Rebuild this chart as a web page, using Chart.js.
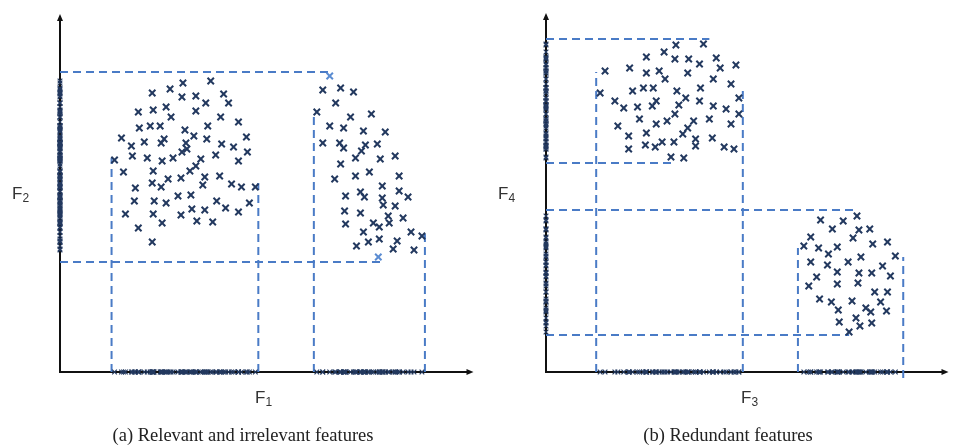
<!DOCTYPE html>
<html>
<head>
<meta charset="utf-8">
<script src="https://cdn.jsdelivr.net/npm/chart.js@4.4.0/dist/chart.umd.min.js"></script>
<style>
  body { margin: 0; background: #fff; }
  #wrap { position: relative; width: 955px; height: 448px; overflow: hidden; }
  canvas { position: absolute; top: 0; }
  .lab { position: absolute; font-family: "Liberation Sans", Arial, sans-serif; font-size: 17px; color: #333; line-height: 1; }
  .lab sub { font-size: 12px; vertical-align: -3px; line-height: 1; }
  .cap { position: absolute; top: 426px; font-family: "Liberation Serif", "Times New Roman", serif; font-size: 18.5px; line-height: 1; color: #222; white-space: nowrap; transform: translateX(-50%); }
</style>
</head>
<body>
<div id="wrap">
  <canvas id="chartA" width="480" height="448" style="left:0"></canvas>
  <canvas id="chartB" width="475" height="448" style="left:480px"></canvas>
  <div class="lab" style="left:12px;top:185px">F<sub>2</sub></div>
  <div class="lab" style="left:255px;top:389px">F<sub>1</sub></div>
  <div class="lab" style="left:498px;top:185px">F<sub>4</sub></div>
  <div class="lab" style="left:741px;top:389px">F<sub>3</sub></div>
  <div class="cap" style="left:243px">(a) Relevant and irrelevant features</div>
  <div class="cap" style="left:728px">(b) Redundant features</div>
</div>
<script>
// (a) two clusters in the F1/F2 plane
const clusterA1 = [
  [124,289],[152,291],[111,283],[93,279],[123,275],[137,276],[165,278],[147,269],[170,269],
  [79,260],[94,262],[107,265],[112,255],[137,261],[162,255],
  [80,244],[91,246],[101,246],[126,242],[149,246],[180,250],
  [62,234],[72,226],[85,230],[102,229],[105,233],[127,229],[135,236],[148,233],[163,228],[175,225],[188,235],
  [73,216],[88,214],[103,211],[114,214],[123,220],[128,223],[142,213],[157,217],[180,211],[189,220],
  [55,212],[64,200],[94,201],[109,193],[122,194],[131,201],[137,206],[146,195],[144,187],[161,196],[173,188],[183,185],[197,185],
  [76,184],[93,189],[102,185],
  [75,171],[95,171],[107,169],[119,176],[132,177],[158,171],[167,164],[180,160],[191,169],
  [66,158],[94,158],[103,149],[122,157],[133,163],[146,162],[138,151],[154,150],
  [79,144],[93,130]
];
const clusterA2 = [
  [265,282],[283,284],[296,280],[278,269],[259,260],[293,255],[314,258],
  [272,246],[286,244],[306,241],[328,240],
  [265,229],[282,229],[286,224],[308,227],[304,221],[320,228],
  [298,214],[323,213],[338,216],[283,208],
  [298,196],[312,200],[342,196],[277,193],[325,186],
  [288,176],[303,180],[307,175],[325,174],[326,167],[342,181],[351,175],[338,166],
  [287,161],[303,159],[331,156],[316,149],[322,145],[332,149],[346,154],[288,148],
  [306,140],[354,140],[365,136],[311,130],[322,133],[340,131],[299,126],[336,123],[357,122]
];
const cornersA = [[272,296],[321,115]];
const boxesA = [
  [[0,300],[273,300]],
  [[0,110],[323,110]],
  [[52,0],[52,214]],
  [[200,0],[200,189]],
  [[256,0],[256,260]],
  [[368,0],[368,139]]
];

// (b) two clusters in the F3/F4 plane
const clusterB1 = [
  [132,327],[160,328],[120,320],[102,315],[131,313],[145,313],[173,314],[156,308],[177,304],[193,307],
  [60,301],[85,304],[102,299],[115,301],[121,293],[144,299],[170,293],[188,288],
  [88,281],[99,284],[109,284],[133,281],[157,284],[55,279],
  [70,271],[79,264],[93,265],[108,266],[112,271],[135,267],[142,274],[156,271],[170,266],[183,263],[196,274],[196,258],
  [95,253],[112,248],[123,251],[131,258],[150,251],[166,253],[188,248],
  [73,246],[84,236],[102,239],[144,244],[139,238],[152,233],[169,234],
  [101,227],[111,225],[118,230],[130,230],[152,226],[181,225],[191,223],[84,223],
  [127,215],[140,214]
];
const clusterB2 = [
  [316,156],[279,152],[302,151],[291,143],[318,142],[329,143],[312,134],[269,135],[262,126],[277,124],[296,125],[287,118],[332,128],[347,130],[355,116],
  [269,110],[286,107],[296,100],[307,110],[320,115],[342,106],[318,99],[331,99],[350,96],[275,95],
  [267,86],[296,88],[317,89],[334,80],[347,80],[278,73],[290,70],[311,71],[297,62],[325,64],[330,60],[340,70],[346,61],
  [315,54],[298,50],[319,46],[331,49],[308,40]
];
const cornersB = [];
const boxesB = [
  [[0,333],[166,333]],
  [[0,209],[128,209]],
  [[51,0],[51,300]],
  [[200,0],[200,282]],
  [[0,162],[312,162]],
  [[0,37],[308,37]],
  [[256,0],[256,124]],
  [[363,-6],[363,115]]
];

const markColor = '#23395f';
const dashColor = '#4a7bc6';

const toPts = arr => arr.map(p => ({x: p[0], y: p[1]}));

// axes with arrow heads
const axisArrows = {
  id: 'axisArrows',
  beforeDatasetsDraw(chart) {
    const {ctx, chartArea: a} = chart;
    ctx.save();
    ctx.strokeStyle = '#111';
    ctx.fillStyle = '#111';
    ctx.lineWidth = 2;
    ctx.beginPath();
    ctx.moveTo(a.left, a.top + 5);
    ctx.lineTo(a.left, a.bottom);
    ctx.lineTo(a.right - 5, a.bottom);
    ctx.stroke();
    ctx.beginPath();
    ctx.moveTo(a.left, a.top);
    ctx.lineTo(a.left - 3, a.top + 7);
    ctx.lineTo(a.left + 3, a.top + 7);
    ctx.closePath();
    ctx.moveTo(a.right, a.bottom);
    ctx.lineTo(a.right - 7, a.bottom - 3);
    ctx.lineTo(a.right - 7, a.bottom + 3);
    ctx.closePath();
    ctx.fill();
    ctx.restore();
  }
};

function makeChart(id, clusters, corners, boxes, pad, xMax, yMax) {
  const all = clusters.flat();
  const datasets = [];
  boxes.forEach(seg => {
    datasets.push({
      data: toPts(seg),
      showLine: true,
      borderColor: dashColor,
      borderWidth: 2,
      borderDash: [8, 5],
      pointRadius: 0,
      clip: false,
      order: 3
    });
  });
  // projections of every point onto both axes
  datasets.push({
    data: all.map(p => ({x: 0, y: p[1]})).concat(all.map(p => ({x: p[0], y: 0}))),
    pointStyle: 'crossRot',
    pointRadius: 3.3,
    borderWidth: 1.2,
    borderColor: markColor,
    clip: false,
    order: 1
  });
  clusters.forEach(c => {
    datasets.push({
      data: toPts(c),
      pointStyle: 'crossRot',
      pointRadius: 4.5,
      borderWidth: 2,
      borderColor: markColor,
      clip: false,
      order: 1
    });
  });
  if (corners.length) {
    datasets.push({
      data: toPts(corners),
      pointStyle: 'crossRot',
      pointRadius: 4.5,
      borderWidth: 2,
      borderColor: '#5b8cd2',
      clip: false,
      order: 1
    });
  }
  return new Chart(document.getElementById(id), {
    type: 'scatter',
    data: { datasets: datasets },
    options: {
      responsive: false,
      animation: false,
      events: [],
      layout: { padding: pad },
      plugins: { legend: { display: false }, tooltip: { enabled: false } },
      scales: {
        x: { type: 'linear', min: 0, max: xMax, display: false },
        y: { type: 'linear', min: 0, max: yMax, display: false }
      }
    },
    plugins: [axisArrows]
  });
}

makeChart('chartA', [clusterA1, clusterA2], cornersA, boxesA,
  {left: 60, top: 14, right: 3, bottom: 76}, 417, 358);
makeChart('chartB', [clusterB1, clusterB2], cornersB, boxesB,
  {left: 66, top: 13, right: 0, bottom: 76}, 409, 359);
</script>
</body>
</html>
